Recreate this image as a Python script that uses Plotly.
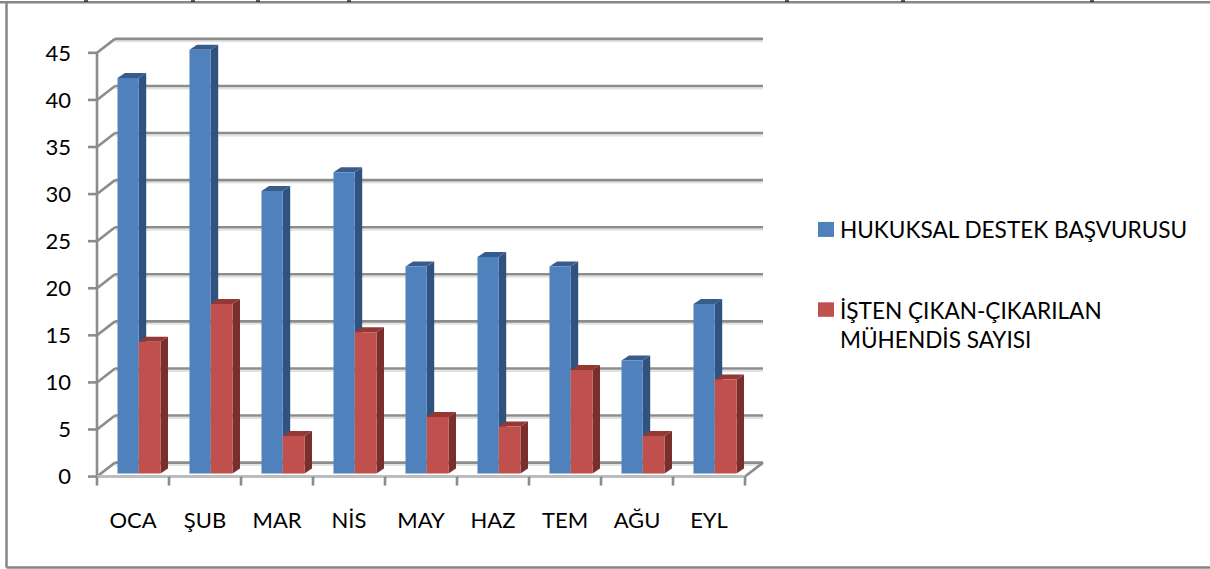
import plotly.graph_objects as go

categories = ["OCA", "ŞUB", "MAR", "NİS", "MAY", "HAZ", "TEM", "AĞU", "EYL"]
hukuksal = [42, 45, 30, 32, 22, 23, 22, 12, 18]
isten = [14, 18, 4, 15, 6, 5, 11, 4, 10]
name_a = "HUKUKSAL DESTEK BAŞVURUSU"
name_b = "İŞTEN ÇIKAN-ÇIKARILAN<br>MÜHENDİS SAYISI"
y_ticks = [0, 5, 10, 15, 20, 25, 30, 35, 40, 45]
top_fragments = [86, 193, 258, 349, 787, 903, 1092]

PX_X = 72.0
PX_Y = 9.43
FONT = "Lato"
GRID = "#8c8c8c"
idx = list(range(len(categories)))
W, H = 1210, 569


def dx(p):
    return p / PX_X


def dy(p):
    return p / PX_Y


def page_x(p):
    return (p - 88) / 684


def page_y(p):
    return (486.43 - p) / 452.64


wall_x, wall_y = dx(18), dy(14)
bar_dx, bar_dy = dx(7.5), dy(5)
base = dy(3)
shapes = []


def seg(x0, y0, x1, y1, color=GRID, w=2.6):
    shapes.append(dict(type="line", xref="x", yref="y", x0=x0, y0=y0, x1=x1, y1=y1,
                       line=dict(color=color, width=w), layer="below"))


def poly(points, color):
    path = "M " + " L ".join(f"{a:.4f},{b:.4f}" for a, b in points) + " Z"
    shapes.append(dict(type="path", xref="x", yref="y", path=path, fillcolor=color,
                       line=dict(width=0), layer="below"))


def page_rect(x0, y0, x1, y1, color):
    shapes.append(dict(type="rect", xref="paper", yref="paper",
                       x0=page_x(x0), x1=page_x(x1), y0=page_y(y0), y1=page_y(y1),
                       fillcolor=color, line=dict(width=0), layer="above"))


left, right = -0.5, len(categories) - 0.5
for v in y_ticks:
    seg(left + wall_x, v + wall_y - dy(2.5), right + wall_x, v + wall_y - dy(2.5), "#e2e2e2", 2)
for v in y_ticks:
    seg(left + wall_x, v + wall_y, right + wall_x, v + wall_y)
    seg(left, v, left + wall_x, v + wall_y)
    seg(left - dx(9), v, left, v)
seg(left, 0, left, y_ticks[-1])
seg(right, 0, right + wall_x, wall_y)
seg(left, 0, right, 0, "#bdbdbd", 3)
for i in range(len(categories) + 1):
    seg(left + i, 0, left + i, -dy(9))

off_a, w_a = dx(-15.5), dx(21.2)
off_b, w_b = dx(5.7), dx(21.8)


def faces(values, off, w, side, top):
    for i, v in zip(idx, values):
        x0, x1 = i + off, i + off + w
        y0, y1 = base, base + v
        poly([(x1, y0), (x1 + bar_dx, y0 + bar_dy), (x1 + bar_dx, y1 + bar_dy), (x1, y1)], side)
        poly([(x0, y1), (x1, y1), (x1 + bar_dx, y1 + bar_dy), (x0 + bar_dx, y1 + bar_dy)], top)


faces(hukuksal, off_a, w_a, "#30527f", "#385d8a")
faces(isten, off_b, w_b, "#7a2f2d", "#953735")

# outer frame, in page pixels
for x0, y0, x1, y1 in [(0, 2, W, 2), (6.5, 2, 6.5, 568), (6.5, 568, W, 568)]:
    shapes.append(dict(type="line", xref="paper", yref="paper",
                       x0=page_x(x0), x1=page_x(x1), y0=page_y(y0), y1=page_y(y1),
                       line=dict(color="#868686", width=2.5), layer="below"))
for p in top_fragments:
    page_rect(p - 2, 0, p + 2, 1.5, "#222222")

# legend swatches
page_rect(818, 222, 834, 237, "#4f81bd")
page_rect(818, 302.5, 834, 317, "#c0504d")

fig = go.Figure()
fig.add_bar(x=idx, y=hukuksal, base=base, width=w_a, offset=off_a, marker_color="#4f81bd",
            marker_line_width=0, showlegend=False, name=name_a)
fig.add_bar(x=idx, y=isten, base=base, width=w_b, offset=off_b, marker_color="#c0504d",
            marker_line_width=0, showlegend=False, name=name_b)
fig.add_scatter(x=[None], y=[None], mode="markers", name=name_a, legend="legend",
                marker=dict(symbol="square", size=1, color="rgba(0,0,0,0)"))
fig.add_scatter(x=[None], y=[None], mode="markers", name=name_b, legend="legend2",
                marker=dict(symbol="square", size=1, color="rgba(0,0,0,0)"))

font = dict(family=FONT, size=22, color="#000000")
lfont = dict(family=FONT, size=22.6, color="#000000")
lx = page_x(800)
fig.update_layout(
    width=W, height=H, autosize=False,
    margin=dict(l=88, r=W - 772, t=33.79, b=82.57, pad=0, autoexpand=False),
    paper_bgcolor="white", plot_bgcolor="white",
    barmode="overlay", font=font, shapes=shapes,
    xaxis=dict(range=[-0.625, 8.875], tickmode="array", tickvals=idx, ticktext=categories,
               showgrid=False, zeroline=False, showline=False, ticks="", ticklabelstandoff=19,
               tickfont=font),
    yaxis=dict(range=[-1, 47], tickmode="array", tickvals=y_ticks, showgrid=False,
               zeroline=False, showline=False, ticks="", ticklabelstandoff=16, tickfont=font),
    legend=dict(x=lx, xanchor="left", y=page_y(208.5), yanchor="top",
                bgcolor="rgba(0,0,0,0)", font=lfont, itemsizing="trace", itemwidth=30),
    legend2=dict(x=lx, xanchor="left", y=page_y(289), yanchor="top",
                 bgcolor="rgba(0,0,0,0)", font=lfont, itemsizing="trace", itemwidth=30),
)
fig.write_html("out.html", config={"displayModeBar": False},
               post_script="document.body.style.margin='0';document.body.style.overflow='hidden';")
